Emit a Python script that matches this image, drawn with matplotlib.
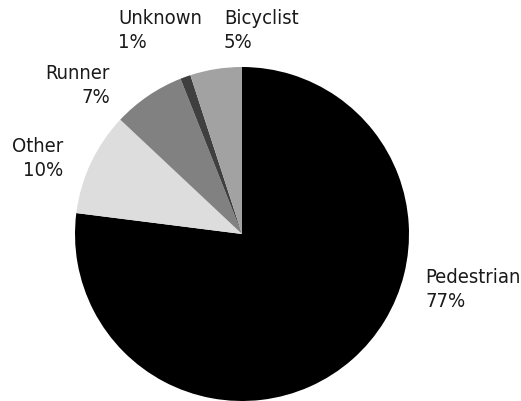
import matplotlib
matplotlib.use("Agg")
import matplotlib.pyplot as plt
from matplotlib import font_manager

categories = ["Pedestrian", "Other", "Runner", "Unknown", "Bicyclist"]
values = [77, 10, 7, 1, 5]
colors = ["#000000", "#dddddd", "#818181", "#3f3f3f", "#a2a2a2"]

# label anchor positions (data units, pie radius = 1; last-line baseline) and alignment
label_pos = [(1.096, -0.431), (-1.072, 0.353), (-0.790, 0.790), (-0.743, 1.120), (-0.108, 1.120)]
label_ha = ["left", "right", "right", "left", "left"]

names = {f.name for f in font_manager.fontManager.ttflist}
fam = ["Liberation Sans Narrow", "DejaVu Sans"] if "Liberation Sans Narrow" in names else ["DejaVu Sans"]
stretch = "normal" if "Liberation Sans Narrow" in names else "condensed"

W, H = 521, 402
fig = plt.figure(figsize=(W / 100, H / 100), dpi=100)
cx, cy, r = 242, 235, 167
ax = fig.add_axes([(cx - r) / W, (H - cy - r) / H, 2 * r / W, 2 * r / H])
ax.pie(values, colors=colors, startangle=90, counterclock=False,
       wedgeprops=dict(linewidth=0), radius=1)
ax.set_xlim(-1, 1)
ax.set_ylim(-1, 1)
ax.set_aspect("equal")
ax.axis("off")

for cat, v, (x, y), ha in zip(categories, values, label_pos, label_ha):
    ax.text(x, y, f"{cat}\n{v}%", ha=ha, va="baseline", multialignment=ha,
            fontsize=14.5, family=fam, stretch=stretch, color="#1a1a1a",
            linespacing=1.35, clip_on=False)

fig.savefig("out.png", dpi=100)
